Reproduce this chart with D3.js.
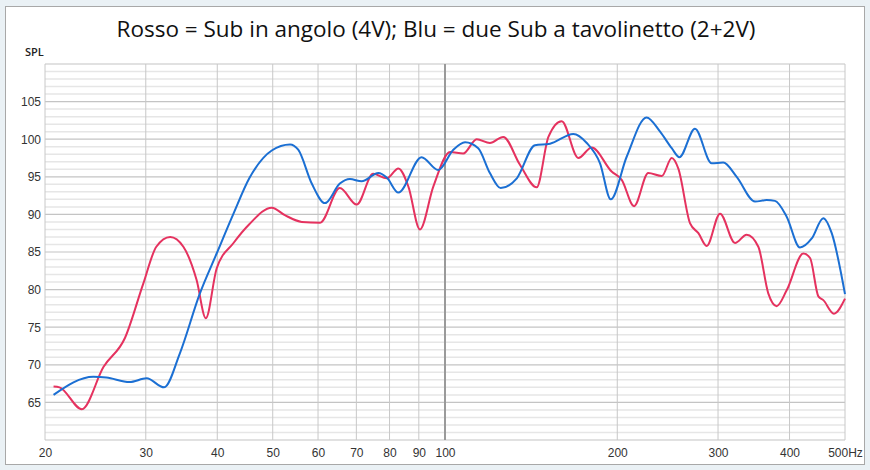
<!DOCTYPE html>
<html>
<head>
<meta charset="utf-8">
<script src="https://cdn.jsdelivr.net/npm/d3@7"></script>
<style>
	body { margin: 0; background: #eaf1f5; }
	svg { display: block; font-family: "Open Sans", "Noto Sans", sans-serif; }
	.axis path { display: none; }
	.axis line { stroke: none; }
	.axis text { fill: #333; font-size: 12px; }
</style>
</head>
<body>
<div id="chart"></div>
<script>
// chart text
var title = 'Rosso = Sub in angolo (4V); Blu = due Sub a tavolinetto (2+2V)';
var yLabel = 'SPL';

// tick values / labels
var xTicks = [20, 30, 40, 50, 60, 70, 80, 90, 100, 200, 300, 400, 500];
var xTickLabels = ['20', '30', '40', '50', '60', '70', '80', '90', '100', '200', '300', '400', '500Hz'];
var yTicks = [65, 70, 75, 80, 85, 90, 95, 100, 105];

// Blu = due Sub a tavolinetto (2+2V)
var freqBlu = [20.7, 24.3, 25.6, 28.1, 30.1, 32.3, 34.4, 37.3, 39.9, 42.7, 45.5, 49.8, 53.6, 55.4, 58.5,
	61.7, 65.5, 68.2, 71.5, 76.5, 79.1, 82.9, 91.0, 97.3, 103.4, 108.4, 114.3, 119.8, 125.1, 133.5,
	143.6, 152.6, 167.6, 176.9, 186.6, 194.8, 207.8, 225, 237.6, 249, 256.8, 273.4, 292.4, 306.3,
	323.4, 348.2, 364.8, 377.2, 395.4, 417.2, 437.4, 458.2, 474, 500];
var splBlu = [66.0, 68.4, 68.3, 67.7, 68.2, 67.0, 71.5, 79.5, 84.8, 90.1, 94.8, 98.5, 99.3, 98.6, 94.1,
	91.5, 94.1, 94.7, 94.4, 95.5, 94.9, 92.9, 97.6, 95.9, 98.6, 99.6, 98.8, 95.5, 93.5, 94.8,
	99.2, 99.4, 100.7, 99.5, 96.8, 92.0, 97.7, 102.9, 101.0, 98.8, 97.6, 101.4, 96.8, 96.9,
	95.0, 91.7, 91.9, 91.8, 89.7, 85.6, 86.8, 89.5, 87.5, 79.4];

// Rosso = Sub in angolo (4V)
var freqRosso = [20.7, 21.2, 23.2, 25.3, 27.6, 29.7, 31.3, 33.1, 34.9, 36.8, 38.2, 39.9, 42.7, 45.5,
	49.8, 52.5, 56.2, 60.5, 65.5, 70.1, 74.9, 79.1, 82.9, 86.3, 90.4, 95.4, 102.1, 107.6, 113.6,
	119.8, 126.4, 135.2, 144.6, 151.6, 159.9, 171, 180.4, 195.5, 203.6, 214, 226.6, 239.3, 249,
	255.7, 268.1, 277.2, 286.6, 302.4, 321.2, 336.6, 352.8, 367.2, 379.8, 395.4, 422.8, 434.4,
	449.2, 458.2, 478.2, 500];
var splRosso = [67.1, 67.0, 64.1, 69.7, 73.6, 80.8, 85.7, 87.0, 85.7, 81.3, 76.2, 82.8, 86.2, 88.7,
	90.9, 89.9, 89.0, 88.9, 93.5, 91.3, 95.4, 94.8, 96.1, 93.7, 88.0, 93.7, 98.3, 98.1, 100.0,
	99.5, 100.3, 96.6, 93.6, 100.3, 102.4, 97.5, 98.9, 95.7, 94.6, 91.1, 95.5, 95.1, 97.5,
	96.1, 88.8, 87.5, 85.8, 90.1, 86.2, 87.3, 85.7, 79.5, 77.8, 79.9, 84.8, 84.2,
	79.1, 78.6, 76.8, 78.8];

var W = 870, H = 470;
var margin = { top: 64, right: 25, bottom: 30, left: 45 };
var width = W - margin.left - margin.right,
	height = H - margin.top - margin.bottom;

var svg = d3.select('#chart')
	.append('svg')
	.attr('width', W)
	.attr('height', H);

// white panel
svg.append('rect')
	.attr('x', 5.5)
	.attr('y', 6.5)
	.attr('width', 859)
	.attr('height', 458)
	.attr('fill', '#fff')
	.attr('stroke', '#a8a8a8');

// title
svg.append('text')
	.attr('x', 436)
	.attr('y', 37)
	.attr('text-anchor', 'middle')
	.style('font-size', '22.5px')
	.style('fill', '#111')
	.text(title);

// SPL
svg.append('text')
	.attr('x', 25)
	.attr('y', 56)
	.style('font-size', '11px')
	.style('font-weight', '600')
	.style('fill', '#222')
	.text(yLabel);

var chart = svg.append('g')
	.attr('transform', 'translate(' + margin.left + ', ' + margin.top + ')');

var xScale = d3.scaleLog().domain([20, 500]).range([0, width]);
var yScale = d3.scaleLinear().domain([60, 110]).range([height, 0]);

// horizontal grid: 1 dB minor, 5 dB major
chart.append('g')
	.selectAll('line')
	.data(d3.range(61, 111).filter(function (d) { return d % 5 !== 0; }))
	.enter()
	.append('line')
	.attr('x1', 0)
	.attr('x2', width)
	.attr('y1', function (d) { return yScale(d); })
	.attr('y2', function (d) { return yScale(d); })
	.attr('stroke', '#e6e6e6')
	.attr('stroke-width', 1.5);

chart.append('g')
	.selectAll('line')
	.data(d3.range(60, 111, 5))
	.enter()
	.append('line')
	.attr('x1', 0)
	.attr('x2', width)
	.attr('y1', function (d) { return yScale(d); })
	.attr('y2', function (d) { return yScale(d); })
	.attr('stroke', '#c4c4c4')
	.attr('stroke-width', 1.2);

// vertical grid
chart.append('g')
	.selectAll('line')
	.data(xTicks)
	.enter()
	.append('line')
	.attr('x1', function (d) { return xScale(d); })
	.attr('x2', function (d) { return xScale(d); })
	.attr('y1', 0)
	.attr('y2', height)
	.attr('stroke', function (d) { return d === 100 ? '#9a9a9a' : '#c8c8c8'; })
	.attr('stroke-width', function (d) { return d === 100 ? 2 : 1; });

// X Axis
var xAxisCall = d3.axisBottom(xScale)
	.tickValues(xTicks)
	.tickSize(0)
	.tickPadding(8)
	.tickFormat(function (d, i) { return xTickLabels[i]; });
chart.append('g')
	.attr('class', 'x axis')
	.attr('transform', 'translate(0, ' + height + ')')
	.call(xAxisCall);

// Y Axis
var yAxisCall = d3.axisLeft(yScale)
	.tickValues(yTicks)
	.tickSize(0)
	.tickPadding(4);
chart.append('g')
	.attr('class', 'y axis')
	.call(yAxisCall);

var line = d3.line()
	.x(function (d) { return xScale(d[0]); })
	.y(function (d) { return yScale(d[1]); })
	.curve(d3.curveMonotoneX);

chart.append('path')
	.datum(d3.zip(freqRosso, splRosso))
	.attr('fill', 'none')
	.attr('stroke', '#e5325f')
	.attr('stroke-width', 2)
	.attr('d', line);

chart.append('path')
	.datum(d3.zip(freqBlu, splBlu))
	.attr('fill', 'none')
	.attr('stroke', '#1b6fd3')
	.attr('stroke-width', 2)
	.attr('d', line);
</script>
</body>
</html>
